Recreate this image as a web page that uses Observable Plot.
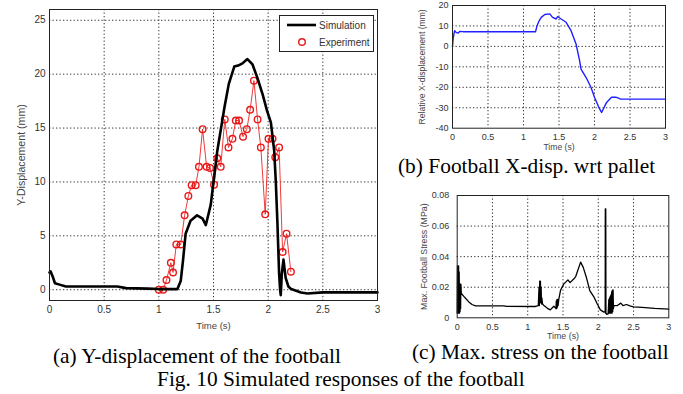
<!DOCTYPE html>
<html><head><meta charset="utf-8">
<script src="https://cdn.jsdelivr.net/npm/d3@7"></script>
<script src="https://cdn.jsdelivr.net/npm/@observablehq/plot@0.6"></script>
<style>
body{margin:0;background:#fff;}
#root{position:relative;width:683px;height:394px;overflow:hidden;background:#fff;}
.abs{position:absolute;}
.cap{position:absolute;font-family:"Liberation Serif","Times New Roman",serif;font-size:21.4px;color:#000;white-space:nowrap;line-height:1;}
#legend{position:absolute;left:279px;top:15px;width:93px;height:35px;border:1px solid #222;background:#fff;font-family:"Liberation Sans",Arial,sans-serif;font-size:10px;color:#333;}
</style></head><body>
<div id="root">
  <div id="pa" class="abs" style="left:0;top:0"></div>
  <div id="pb" class="abs" style="left:390px;top:0"></div>
  <div id="pc" class="abs" style="left:390px;top:185px"></div>
  <div id="legend"></div>
  <div class="cap" style="left:53px;top:346px">(a) Y-displacement of the football</div>
  <div class="cap" style="left:398px;top:156px">(b) Football X-disp. wrt pallet</div>
  <div class="cap" style="left:412px;top:342px">(c) Max. stress on the football</div>
  <div class="cap" style="left:157px;top:369px">Fig. 10 Simulated responses of the football</div>
</div>
<script>
// ---- tick values ----
const xTicks = [0, 0.5, 1, 1.5, 2, 2.5, 3];
const aYTicks = [0, 5, 10, 15, 20, 25];
const bYTicks = [-40, -30, -20, -10, 0, 10, 20];
const cYTicks = [0, 0.02, 0.04, 0.06, 0.08];

// ---- legend / labels ----
const seriesNames = ["Simulation", "Experiment"];
const xLabel = "Time (s)";
const aYLabel = "Y-Displacement (mm)";
const bYLabel = "Relative X-displacement (mm)";
const cYLabel = "Max. Football Stress (MPa)";

// ---- (a) simulation ----
const simT = [0, 0.01, 0.03, 0.05, 0.1, 0.15, 0.3, 0.5, 0.62, 0.7, 0.9, 1.0, 1.17, 1.2, 1.22, 1.245, 1.29, 1.35, 1.4, 1.43, 1.475, 1.5, 1.535, 1.6, 1.64, 1.69, 1.725, 1.765, 1.81, 1.857, 1.9, 1.95, 1.99, 2.025, 2.055, 2.07, 2.085, 2.1, 2.11, 2.115, 2.125, 2.14, 2.16, 2.185, 2.21, 2.3, 2.36, 2.5, 3.0];
const simY = [1.6, 1.7, 1.2, 0.6, 0.45, 0.3, 0.3, 0.3, 0.3, 0.15, 0.1, 0.06, 0.06, 0.8, 2.6, 5.2, 6.4, 6.9, 6.6, 6.0, 7.9, 10, 12.9, 16.9, 19.1, 20.7, 20.8, 21.0, 21.4, 20.9, 19.7, 18.1, 16.6, 15.5, 12.9, 10, 6.1, 1.5, -0.1, -0.5, 1.5, 2.8, 1.1, 0.3, 0.06, -0.25, -0.35, -0.25, -0.25];

// ---- (a) experiment ----
const expT = [1.0, 1.04, 1.07, 1.11, 1.13, 1.16, 1.2, 1.236, 1.27, 1.30, 1.337, 1.367, 1.40, 1.437, 1.468, 1.505, 1.535, 1.566, 1.603, 1.637, 1.673, 1.704, 1.734, 1.77, 1.805, 1.835, 1.87, 1.903, 1.933, 1.973, 2.003, 2.04, 2.065, 2.10, 2.132, 2.168, 2.208];
const expY = [0, 0, 0.9, 2.5, 1.6, 4.2, 4.2, 6.9, 8.7, 9.7, 9.7, 11.4, 14.9, 11.4, 11.3, 9.75, 12.2, 11.4, 15.8, 13.2, 14.0, 15.7, 15.7, 14.2, 14.9, 16.7, 19.4, 15.8, 13.2, 7.0, 14.0, 14.0, 12.3, 13.2, 3.5, 5.2, 1.67];

// ---- (b) relative X-displacement ----
const bT = [0, 0.01, 0.02, 0.03, 0.05, 0.08, 0.1, 0.15, 0.5, 1.0, 1.17, 1.19, 1.22, 1.25, 1.3, 1.37, 1.41, 1.46, 1.48, 1.53, 1.6, 1.67, 1.74, 1.79, 1.81, 1.88, 1.95, 2.0, 2.06, 2.1, 2.17, 2.24, 2.3, 2.37, 2.5, 3.0];
const bY = [0, 4, 6, 7.7, 6.9, 6.5, 7.3, 7.2, 7.2, 7.2, 7.2, 10, 12.5, 14.2, 15.6, 15.9, 14.2, 13.4, 14.6, 13.4, 11.8, 7.7, 1.2, -7.0, -11.1, -15.1, -20, -24.9, -29.8, -32.3, -27.4, -24.9, -24.8, -25.8, -25.8, -25.8];

// ---- (c) max stress ----
const cT = [0, 0.004, 0.008, 0.012, 0.016, 0.02, 0.024, 0.028, 0.032, 0.036, 0.04, 0.044, 0.048, 0.052, 0.058, 0.094, 0.118, 0.165, 0.21, 0.26, 0.66, 0.7, 1.11, 1.15, 1.16, 1.165, 1.17, 1.175, 1.18, 1.185, 1.19, 1.195, 1.2, 1.21, 1.23, 1.28, 1.32, 1.37, 1.40, 1.405, 1.41, 1.415, 1.42, 1.425, 1.43, 1.44, 1.465, 1.51, 1.57, 1.6, 1.655, 1.68, 1.75, 1.787, 1.834, 1.88, 1.94, 1.986, 2.03, 2.08, 2.098, 2.1, 2.103, 2.106, 2.109, 2.12, 2.14, 2.15, 2.155, 2.16, 2.165, 2.17, 2.175, 2.18, 2.185, 2.19, 2.195, 2.2, 2.205, 2.21, 2.215, 2.22, 2.27, 2.32, 2.35, 2.4, 2.45, 2.5, 2.62, 2.8, 3.0];
const cY = [0.003, 0.034, 0.003, 0.034, 0.003, 0.034, 0.003, 0.030, 0.003, 0.022, 0.004, 0.022, 0.006, 0.022, 0.016, 0.014, 0.0128, 0.0104, 0.0087, 0.0078, 0.0078, 0.0075, 0.0074, 0.008, 0.02, 0.008, 0.024, 0.01, 0.024, 0.01, 0.02, 0.009, 0.013, 0.009, 0.008, 0.0062, 0.0052, 0.0076, 0.006, 0.011, 0.006, 0.012, 0.007, 0.012, 0.008, 0.012, 0.018, 0.022, 0.0248, 0.023, 0.0255, 0.027, 0.0364, 0.033, 0.026, 0.0178, 0.0135, 0.009, 0.0052, 0.0037, 0.004, 0.0713, 0.003, 0.0713, 0.003, 0.0022, 0.0025, 0.012, 0.003, 0.013, 0.003, 0.014, 0.003, 0.015, 0.003, 0.017, 0.003, 0.018, 0.004, 0.0183, 0.006, 0.008, 0.008, 0.0096, 0.008, 0.0087, 0.0078, 0.0072, 0.0068, 0.0061, 0.0057];

const zip = (t, v) => t.map((d, i) => ({t: d, v: v[i]}));
const fmt = d => String(d);
const gridStyle = {stroke: "#333", strokeOpacity: 1, strokeWidth: 1, strokeDasharray: "1.3,2.2"};

function panel(o) {
  return Plot.plot({
    width: o.width, height: o.height,
    marginLeft: o.ml, marginRight: o.mr, marginTop: o.mt, marginBottom: o.mb,
    style: {fontFamily: "'Liberation Sans', Arial, sans-serif", fontSize: o.fs + "px", color: "#333", background: "transparent", overflow: "visible"},
    x: {domain: [0, 3]},
    y: {domain: o.yDomain},
    marks: [
      Plot.gridX(xTicks.slice(1, -1), gridStyle),
      Plot.gridY(o.yGrid, gridStyle),
      ...o.marks,
      Plot.frame({stroke: "#222", strokeWidth: 1}),
      Plot.axisX(xTicks, {tickSize: 0, tickPadding: o.xpad, tickFormat: fmt, label: null, fontSize: o.fs}),
      Plot.axisY(o.yTicks, {tickSize: 0, tickPadding: o.ypad, tickFormat: fmt, label: null, fontSize: o.fs}),
      Plot.text([xLabel], {text: d => d, frameAnchor: "bottom", dy: o.xldy, textAnchor: "middle", lineAnchor: "middle", fontSize: o.xlfs, fill: "#444"}),
      Plot.text([o.yLabel], {text: d => d, frameAnchor: "left", dx: o.yldx, rotate: -90, textAnchor: "middle", lineAnchor: "middle", fontSize: o.lfs, fill: "#444"})
    ]
  });
}

const A = panel({
  width: 390, height: 335, ml: 49, mr: 13, mt: 9, mb: 35, fs: 10, lfs: 10.6, xlfs: 9.5,
  yDomain: [-1, 26], yTicks: aYTicks, yGrid: aYTicks, xpad: 5.5, ypad: 4, xldy: 25, yldx: -27.5,
  yLabel: aYLabel,
  marks: [
    Plot.line(zip(expT, expY), {x: "t", y: "v", stroke: "#ee2222", strokeWidth: 0.9}),
    Plot.dot(zip(expT, expY), {x: "t", y: "v", r: 3.3, stroke: "#e81818", strokeWidth: 1.4, fill: "none"}),
    Plot.line(zip(simT, simY), {x: "t", y: "v", stroke: "#000", strokeWidth: 2.6, strokeLinejoin: "round"})
  ]
});
document.getElementById("pa").appendChild(A);

const B = panel({
  width: 293, height: 155, ml: 62, mr: 18, mt: 5, mb: 27.3, fs: 9, lfs: 8.6, xlfs: 8.6,
  yDomain: [-40, 20], yTicks: bYTicks, yGrid: bYTicks.slice(1, -1), xpad: 5, ypad: 4, xldy: 19, yldx: -30,
  yLabel: bYLabel,
  marks: [
    Plot.line(zip(bT, bY), {x: "t", y: "v", stroke: "#1f1fff", strokeWidth: 1.4})
  ]
});
document.getElementById("pb").appendChild(B);

const C = panel({
  width: 293, height: 160, ml: 66.7, mr: 14.7, mt: 10, mb: 27.7, fs: 9, lfs: 8.8, xlfs: 8.8,
  yDomain: [0, 0.08], yTicks: cYTicks, yGrid: cYTicks.slice(1, -1), xpad: 5.5, ypad: 8, xldy: 18.7, yldx: -33,
  yLabel: cYLabel,
  marks: [
    Plot.line(zip(cT, cY), {x: "t", y: "v", stroke: "#000", strokeWidth: 1.3})
  ]
});
document.getElementById("pc").appendChild(C);

// legend
const lg = document.getElementById("legend");
lg.innerHTML =
  `<svg width="93" height="35" style="position:absolute;left:0;top:0;font-family:'Liberation Sans',Arial,sans-serif;font-size:10px">
    <line x1="7" x2="36" y1="9" y2="9" stroke="#000" stroke-width="2.6"/>
    <text x="39" y="9" dy="0.35em" fill="#333">${seriesNames[0]}</text>
    <circle cx="22" cy="26" r="3.3" fill="none" stroke="#e81818" stroke-width="1.4"/>
    <text x="39" y="26" dy="0.35em" fill="#333">${seriesNames[1]}</text>
  </svg>`;
</script>
</body></html>
